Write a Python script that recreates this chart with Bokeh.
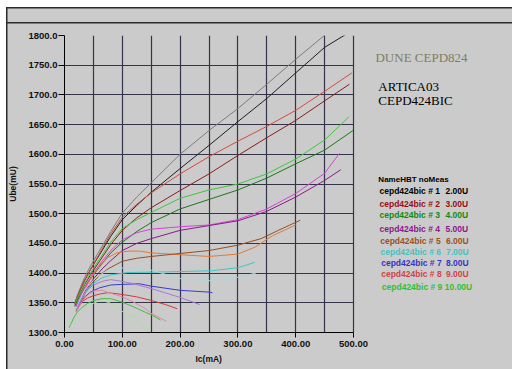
from bokeh.plotting import figure
from bokeh.models import Range1d, SingleIntervalTicker, NumeralTickFormatter, Title
from bokeh.core.properties import value
from bokeh.embed import file_html
from bokeh.resources import INLINE

# ---------------- data ----------------
ic_1a = [18, 22, 28, 35, 45, 60, 80, 100, 125, 150, 200, 250, 300, 350, 400, 452]
ube_1a = [1350, 1362, 1377, 1393, 1412, 1437, 1470, 1501, 1528, 1552, 1600, 1640, 1677, 1718, 1760, 1802]
ic_1b = [18, 22, 28, 35, 45, 60, 80, 100, 125, 150, 200, 250, 300, 350, 400, 450, 487]
ube_1b = [1348, 1359, 1373, 1388, 1406, 1430, 1462, 1490, 1514, 1536, 1576, 1615, 1655, 1694, 1737, 1780, 1802]

ic_2a = [18, 22, 28, 35, 45, 60, 80, 100, 125, 150, 200, 250, 300, 350, 400, 450, 497]
ube_2a = [1348, 1360, 1373, 1388, 1406, 1432, 1466, 1494, 1516, 1535, 1567, 1596, 1622, 1647, 1674, 1706, 1737]
ic_2b = [18, 22, 28, 35, 45, 60, 80, 100, 125, 150, 200, 250, 300, 350, 400, 450, 493]
ube_2b = [1346, 1356, 1368, 1381, 1397, 1419, 1448, 1472, 1493, 1510, 1539, 1567, 1598, 1628, 1657, 1690, 1718]

ic_3a = [18, 22, 28, 35, 45, 60, 80, 100, 125, 150, 200, 250, 300, 350, 400, 450, 492]
ube_3a = [1346, 1357, 1369, 1383, 1400, 1423, 1452, 1475, 1490, 1502, 1526, 1540, 1550, 1567, 1592, 1624, 1663]
ic_3b = [18, 22, 28, 35, 45, 60, 80, 100, 125, 150, 200, 250, 300, 350, 400, 450, 499]
ube_3b = [1344, 1353, 1364, 1376, 1390, 1410, 1434, 1452, 1470, 1485, 1508, 1524, 1540, 1560, 1584, 1607, 1640]

ic_4a = [20, 25, 32, 40, 50, 65, 80, 100, 125, 150, 200, 250, 300, 350, 400, 450, 476]
ube_4a = [1345, 1356, 1370, 1385, 1400, 1420, 1438, 1456, 1468, 1474, 1478, 1481, 1490, 1508, 1534, 1568, 1602]
ic_4b = [20, 25, 32, 40, 50, 65, 80, 100, 125, 150, 200, 250, 300, 350, 400, 450, 478]
ube_4b = [1343, 1352, 1364, 1376, 1390, 1407, 1421, 1438, 1450, 1458, 1472, 1480, 1488, 1504, 1528, 1556, 1574]

ic_5a = [22, 28, 35, 45, 60, 75, 90, 110, 130, 150, 200, 250, 300, 330, 360, 400]
ube_5a = [1342, 1356, 1372, 1390, 1412, 1426, 1434, 1437, 1437, 1434, 1431, 1428, 1432, 1444, 1463, 1481]
ic_5b = [22, 28, 35, 45, 60, 75, 100, 125, 150, 200, 250, 300, 340, 370, 408]
ube_5b = [1340, 1352, 1365, 1380, 1396, 1407, 1420, 1425, 1428, 1433, 1438, 1447, 1458, 1472, 1489]

ic_6a = [20, 25, 32, 40, 50, 65, 80, 110, 175, 255, 300, 329]
ube_6a = [1338, 1350, 1362, 1373, 1383, 1392, 1397, 1401, 1402, 1404, 1409, 1418]
ic_6b = [20, 25, 32, 40, 55, 70, 85, 115, 150, 200, 250, 300, 331]
ube_6b = [1340, 1352, 1366, 1378, 1393, 1402, 1407, 1410, 1405, 1391, 1387, 1393, 1400]

ic_7a = [22, 28, 35, 45, 60, 80, 100, 130, 150, 200, 250, 256]
ube_7a = [1338, 1350, 1360, 1368, 1375, 1380, 1381, 1382, 1378, 1371, 1368, 1367]
ic_7b = [20, 25, 32, 40, 50, 65, 80, 100, 120, 150, 200, 234]
ube_7b = [1336, 1348, 1361, 1372, 1380, 1386, 1389, 1386, 1382, 1374, 1359, 1347]

ic_8a = [20, 25, 32, 40, 50, 62, 75, 100, 125, 150, 175, 195]
ube_8a = [1335, 1344, 1353, 1358, 1362, 1365, 1367, 1364, 1360, 1354, 1347, 1340]
ic_8b = [20, 25, 32, 40, 51, 65, 80, 100, 120, 140, 152, 176]
ube_8b = [1334, 1344, 1355, 1363, 1370, 1371, 1366, 1360, 1351, 1340, 1331, 1319]

ic_9a = [8, 12, 16, 22, 30, 40, 51, 65, 80, 100, 120, 140, 152, 166]
ube_9a = [1308, 1316, 1325, 1334, 1342, 1349, 1354, 1357, 1357, 1351, 1343, 1334, 1329, 1321]
ic_9b = [10, 15, 20, 27, 33, 45, 62, 75, 85, 102, 112, 117, 120, 125, 135, 146]
ube_9b = [1310, 1318, 1325, 1332, 1337, 1347, 1354, 1351, 1347, 1334, 1327, 1326, 1330, 1320, 1312, 1303]

legend_names = ["cepd424bic # 1", "cepd424bic # 2", "cepd424bic # 3", "cepd424bic # 4",
                "cepd424bic # 5", "cepd424bic # 6", "cepd424bic # 7", "cepd424bic # 8",
                "cepd424bic # 9"]
legend_values = ["2.00U", "3.00U", "4.00U", "5.00U", "6.00U", "7.00U", "8.00U", "9.00U", "10.00U"]

# ---------------- styles ----------------
BG = "#cbcbcb"
GRID = "#33334a"
EDGE = "#2a2a2a"
curves = [
    (ic_1a, ube_1a, "#7c7c7c"), (ic_1b, ube_1b, "#1e1e1e"),
    (ic_2a, ube_2a, "#d44a3c"), (ic_2b, ube_2b, "#8c1c1c"),
    (ic_3a, ube_3a, "#3cc83c"), (ic_3b, ube_3b, "#1a781a"),
    (ic_4a, ube_4a, "#d444d4"), (ic_4b, ube_4b, "#8a1a8a"),
    (ic_5a, ube_5a, "#e07a3a"), (ic_5b, ube_5b, "#945028"),
    (ic_6a, ube_6a, "#3cc8c8"), (ic_6b, ube_6b, "#a8d8d8"),
    (ic_7a, ube_7a, "#3a3ad4"), (ic_7b, ube_7b, "#a878d8"),
    (ic_8a, ube_8a, "#d83838"), (ic_8b, ube_8b, "#e088a8"),
    (ic_9a, ube_9a, "#40c040"), (ic_9b, ube_9b, "#a8e0a0"),
]
legend_colors = ["#000000", "#9a0e0e", "#108a10", "#8e168e", "#9a5222",
                 "#40c4c4", "#3434c8", "#d04444", "#30c030"]

panel_bg = (f"linear-gradient({EDGE},{EDGE}) 6px 7px / 100% 1.5px no-repeat, "
            f"linear-gradient({EDGE},{EDGE}) 6px 21.5px / 100% 1.5px no-repeat, "
            f"linear-gradient({EDGE},{EDGE}) 6px 7px / 1.5px 100% no-repeat, "
            f"linear-gradient({BG},{BG}) 6px 7px / 100% 100% no-repeat, #ffffff")

# frame: 64..512 px horizontally (0..500 mA occupies 289 px), 35..332 px vertically
X_END = 500 * 448 / 289

p = figure(width=512, height=369, x_range=Range1d(0, X_END), y_range=Range1d(1300, 1800),
           toolbar_location=None, output_backend="svg",
           min_border_left=64, min_border_right=0, min_border_top=35, min_border_bottom=37,
           background_fill_color=BG, border_fill_color=None, outline_line_color=None,
           styles={"background": panel_bg})

p.xaxis.ticker = SingleIntervalTicker(interval=100, num_minor_ticks=0)
p.yaxis.ticker = SingleIntervalTicker(interval=50, num_minor_ticks=0)
p.xaxis.bounds = (0, 500)
p.xgrid.ticker = SingleIntervalTicker(interval=50)
p.ygrid.ticker = SingleIntervalTicker(interval=50)
p.xgrid.bounds = (0, 500)
p.ygrid.cross_bounds = (0, 500)
p.grid.grid_line_color = GRID
p.grid.grid_line_width = 1.2
p.xaxis.formatter = NumeralTickFormatter(format="0.00")
p.yaxis.formatter = NumeralTickFormatter(format="0.0")

for ax in (p.xaxis[0], p.yaxis[0]):
    ax.axis_line_color = "#000000"
    ax.major_tick_line_color = "#000000"
    ax.major_tick_in = 0
    ax.minor_tick_out = 0
    ax.minor_tick_in = 0
    ax.major_label_text_font = "Liberation Sans"
    ax.major_label_text_font_style = "bold"
    ax.major_label_text_font_size = "9.5px"
    ax.major_label_text_color = "#111111"
    ax.axis_label_text_font = "Liberation Sans"
    ax.axis_label_text_font_style = "bold"
    ax.axis_label_text_font_size = "8.5px"
    ax.axis_label_text_color = "#111111"

p.yaxis.axis_label = "Ube(mU)"
p.xaxis.major_tick_out = 5
p.yaxis.major_tick_out = 6
p.xaxis.major_label_standoff = 3
p.yaxis.major_label_standoff = 1
p.yaxis.axis_label_standoff = 7

# x axis title, centred under the 0..500 part of the frame
p.add_layout(Title(text="Ic(mA)", align="left", offset=131, text_font="Liberation Sans",
                   text_font_style="bold", text_font_size="8.5px", text_color="#111111",
                   standoff=4), "below")

for xs, ys, c in curves:
    p.line(xs, ys, line_color=c, line_width=1)

# ---------------- right-hand texts ----------------
def put(texts, xs, ys, font, size, colors, style="normal"):
    p.text(x=xs, y=ys, text=texts, text_font=value(font), text_font_size=value(size),
           text_font_style=style, text_color=colors, text_baseline="middle", text_align="left")

put(["DUNE CEPD824"], [538], [1763], "Liberation Serif", "13px", ["#7e7e62"])
put(["ARTICA03", "CEPD424BIC"], [543, 543], [1714, 1690.6], "Liberation Serif", "13px",
    ["#000000", "#000000"])
put(["NameHBT noMeas"], [543], [1558.4], "Liberation Sans", "8px", ["#000000"], "bold")

row_y = [1537.4, 1516.7, 1497.0, 1474.2, 1454.0, 1435.2, 1416.7, 1398.8, 1377.4]
row_x = [545, 545, 545, 545, 546.2, 546.7, 547.9, 547.9, 549]
val_x = [659, 659, 659, 659, 660, 660, 660, 660, 658]
put(legend_names, row_x, row_y, "Liberation Sans", "8.5px", legend_colors, "bold")
put(legend_values, val_x, row_y, "Liberation Sans", "8.5px", legend_colors, "bold")

open("out.html", "w").write(file_html(p, INLINE))
